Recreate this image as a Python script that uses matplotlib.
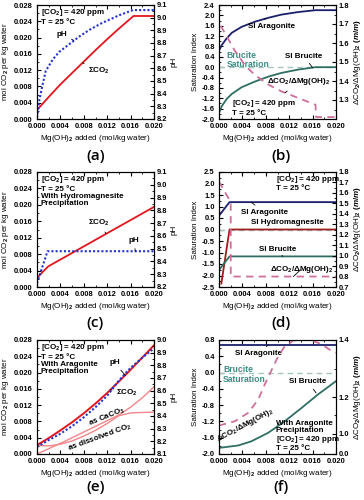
import numpy as np
import matplotlib
matplotlib.use('Agg')
import matplotlib.pyplot as plt
from matplotlib.ticker import MultipleLocator, FixedLocator, FuncFormatter

FONT = 'Liberation Sans'
plt.rcParams['font.family'] = [FONT, 'DejaVu Sans']
plt.rcParams['font.weight'] = 'bold'
plt.rcParams['font.size'] = 6
plt.rcParams['mathtext.fontset'] = 'custom'
plt.rcParams['mathtext.rm'] = FONT + ':bold'
plt.rcParams['mathtext.it'] = FONT + ':italic:bold'
plt.rcParams['mathtext.bf'] = FONT + ':bold'
plt.rcParams['axes.linewidth'] = 0.8

# ---- data ----
# (a) no precipitation
a_x = [0, 0.002, 0.004, 0.006, 0.008, 0.010, 0.012, 0.014, 0.0165, 0.020]
a_co2 = [0.0022, 0.0054, 0.0085, 0.0113, 0.0141, 0.0169, 0.0196, 0.0222, 0.0253, 0.0253]
a_ph_x = [0, 0.0004, 0.001, 0.0015, 0.0027, 0.0038, 0.0055, 0.0072, 0.009, 0.0112, 0.0141, 0.0164, 0.020]
a_ph = [8.21, 8.35, 8.48, 8.58, 8.67, 8.73, 8.79, 8.85, 8.905, 8.96, 9.02, 9.06, 9.06]

# (b) saturation indices, no precipitation
b_x = [0, 0.00046, 0.0013, 0.0022, 0.0039, 0.0062, 0.0085, 0.0107, 0.0136, 0.0165, 0.020]
b_arag = [0.64, 0.85, 1.11, 1.33, 1.56, 1.76, 1.91, 2.03, 2.13, 2.20, 2.20]
b_bruc = [-1.77, -1.51, -1.23, -1.03, -0.77, -0.55, -0.36, -0.22, -0.09, 0.0, 0.0]
b_ratio_x = [0.0003, 0.0016, 0.0027, 0.0045, 0.0062, 0.0085, 0.0107, 0.0136, 0.0165, 0.0166, 0.020]
b_ratio = [1.69, 1.62, 1.56, 1.48, 1.43, 1.38, 1.345, 1.31, 1.275, 1.21, 1.21]

# (c) hydromagnesite precipitation
c_co2_x = [0, 0.001, 0.0019, 0.020]
c_co2 = [0.0022, 0.0037, 0.0050, 0.0195]
c_ph_x = [0, 0.0018, 0.020]
c_ph = [8.23, 8.48, 8.48]

# (d) saturation indices with hydromagnesite
d_x = [0, 0.0018, 0.020]
d_arag = [0.60, 1.19, 1.19]
d_hmg_x = [0.0004, 0.0018, 0.020]
d_hmg = [-2.35, 0.0, 0.0]
d_bruc = [-1.76, -1.17, -1.17]
d_ratio_x = [0, 0.0005, 0.001, 0.0015, 0.002, 0.00201, 0.020]
d_ratio = [1.71, 1.66, 1.61, 1.56, 1.52, 0.80, 0.80]

# (e) aragonite precipitation
e_x = [0, 0.002, 0.004, 0.006, 0.008, 0.010, 0.012, 0.014, 0.016, 0.018, 0.020]
e_co2 = [0.0022, 0.0039, 0.0058, 0.0078, 0.0100, 0.0124, 0.0150, 0.0178, 0.0207, 0.0237, 0.0267]
e_caco3 = [0, 0.0013, 0.0026, 0.0040, 0.0054, 0.0068, 0.0082, 0.0096, 0.0115, 0.0138, 0.0165]
e_diss = [0.0021, 0.0020, 0.0024, 0.0032, 0.0044, 0.0058, 0.0075, 0.0094, 0.0101, 0.0102, 0.0103]
e_ph = [8.155, 8.21, 8.26, 8.32, 8.39, 8.47, 8.56, 8.68, 8.78, 8.86, 8.935]

# (f) saturation indices with aragonite
f_x = [0, 0.0033, 0.0055, 0.0084, 0.0112, 0.0141, 0.0169, 0.020]
f_bruc = [-1.85, -1.79, -1.69, -1.48, -1.20, -0.87, -0.54, -0.21]
f_arag_x = [0, 0.020]
f_arag = [0.68, 0.68]
f_ratio_x = [0, 0.0027, 0.005, 0.0067, 0.0078, 0.009, 0.0101, 0.0112, 0.0127, 0.0145, 0.016, 0.0175, 0.019, 0.020]
f_ratio = [1.045, 1.068, 1.114, 1.186, 1.243, 1.295, 1.342, 1.377, 1.398, 1.405, 1.398, 1.385, 1.365, 1.355]

RED = '#e3161d'
SALMON = '#f2868a'
BLUE = '#2233cc'
NAVY = '#1b1f6b'
TEAL = '#2f6f63'
HMG = '#a01c1c'
PINK = '#cf6f9c'
SATGREY = '#a8c4bc'
SATTEXT = '#3d8c84'

CO2_LABEL = 'mol CO$_2$ per kg water'
RATIO_LABEL = 'ΔCO$_2$/ΔMg(OH)$_2$ $\\mathit{(m/m)}$'
CONDS = '[CO$_2$] = 420 ppm\nT = 25 °C'
TFS = 5.4   # tick labels
FS = 5.8    # labels and notes
LS = 1.05

fig = plt.figure(figsize=(3.64, 5.00), dpi=100)


def setup(rect):
    ax = fig.add_axes(rect)
    ax.set_xlim(0, 0.02)
    ax.xaxis.set_major_locator(MultipleLocator(0.004))
    ax.xaxis.set_minor_locator(MultipleLocator(0.002))
    ax.xaxis.set_major_formatter(FuncFormatter(lambda v, p: f'{v:.3f}'))
    ax.tick_params(which='both', direction='in', top=True, right=False, labelsize=TFS, pad=3)
    ax.tick_params(which='major', length=3, width=0.8)
    ax.tick_params(which='minor', length=1.7, width=0.6)
    ax.set_xlabel('Mg(OH)$_2$ added (mol/kg water)', fontsize=FS, labelpad=2)
    ax2 = ax.twinx()
    ax2.tick_params(which='both', direction='in', labelsize=TFS, pad=2)
    ax2.tick_params(which='major', length=3, width=0.8)
    ax2.tick_params(which='minor', length=1.7, width=0.6)
    return ax, ax2


def co2_axis(ax):
    ax.set_ylim(0, 0.028)
    ax.yaxis.set_major_locator(MultipleLocator(0.004))
    ax.yaxis.set_minor_locator(MultipleLocator(0.002))
    ax.yaxis.set_major_formatter(FuncFormatter(lambda v, p: f'{v:.3f}'))
    ax.set_ylabel(CO2_LABEL, fontsize=FS, labelpad=2)


def si_axis(ax, lo, hi, step):
    ax.set_ylim(lo, hi)
    ax.yaxis.set_major_locator(MultipleLocator(step))
    ax.yaxis.set_minor_locator(MultipleLocator(step / 2))
    ax.yaxis.set_major_formatter(FuncFormatter(lambda v, p: f'{v:.1f}'))
    ax.set_ylabel('Saturation Index', fontsize=FS, labelpad=2)


def right_axis(ax2, lo, hi, step, label):
    ax2.set_ylim(lo, hi)
    ax2.yaxis.set_major_locator(MultipleLocator(step))
    ax2.yaxis.set_minor_locator(MultipleLocator(step / 2))
    ax2.yaxis.set_major_formatter(FuncFormatter(lambda v, p: f'{v:.1f}'))
    ax2.set_ylabel(label, fontsize=FS, labelpad=2)


def note(ax, text, xy, xytext, **kw):
    ax.annotate(text, xy=xy, xytext=xytext, ha='center', va='center', fontsize=FS,
                arrowprops=dict(arrowstyle='-', lw=0.6, color='black', shrinkA=1, shrinkB=0), **kw)


W, H = 117 / 364, 114 / 500
LX, RX = 37 / 364, 219 / 364

# ---------- (a) ----------
ax, ax2 = setup([LX, 0.762, W, H])
co2_axis(ax)
right_axis(ax2, 8.2, 9.1, 0.1, 'pH')
ax.plot(a_x, a_co2, color=RED, lw=1.3)
ax2.plot(a_ph_x, a_ph, color=BLUE, lw=1.5, ls=(0, (1, 1)))
ax.text(0.0006, 0.0274, CONDS, va='top', ha='left', fontsize=FS, linespacing=LS)
note(ax2, 'pH', (0.0063, 8.82), (0.0043, 8.87))
note(ax, 'ΣCO$_2$', (0.0078, 0.0138), (0.0106, 0.0117))

# ---------- (b) ----------
ax, ax2 = setup([RX, 0.762, W, H])
si_axis(ax, -2.0, 2.4, 0.4)
right_axis(ax2, 1.2, 1.8, 0.1, RATIO_LABEL)
ax2.yaxis.set_major_locator(FixedLocator([1.3, 1.4, 1.5, 1.6, 1.7, 1.8]))
ax.axhline(0, color=SATGREY, lw=1.0, ls=(0, (4, 3)))
ax.plot(b_x, b_arag, color=NAVY, lw=1.3)
ax.plot(b_x, b_bruc, color=TEAL, lw=1.3)
ax2.plot(b_ratio_x, b_ratio, color=PINK, lw=1.3, ls=(0, (4, 3)))
ax.text(0.0013, 0.62, 'Brucite\nSaturation', color=SATTEXT, ha='left', va='top', fontsize=6.2,
        linespacing=LS)
note(ax, 'SI Aragonite', (0.0078, 1.87), (0.0090, 1.56))
note(ax, 'SI Brucite', (0.0160, -0.02), (0.0145, 0.43))
note(ax2, 'ΔCO$_2$/ΔMg(OH)$_2$', (0.0113, 1.338), (0.0136, 1.395))
ax.text(0.0022, -1.2, CONDS, va='top', ha='left', fontsize=FS, linespacing=LS)

# ---------- (c) ----------
ax, ax2 = setup([LX, 0.426, W, 0.23])
co2_axis(ax)
right_axis(ax2, 8.2, 9.1, 0.1, 'pH')
ax.plot(c_co2_x, c_co2, color=RED, lw=1.3)
ax2.plot(c_ph_x, c_ph, color=BLUE, lw=1.5, ls=(0, (1, 1)))
ax.text(0.0006, 0.0274, CONDS + '\nWith Hydromagnesite\nPrecipitation', va='top', ha='left',
        fontsize=FS, linespacing=LS)
note(ax, 'ΣCO$_2$', (0.0118, 0.0130), (0.0106, 0.0156))
note(ax2, 'pH', (0.0168, 8.48), (0.0166, 8.56))

# ---------- (d) ----------
ax, ax2 = setup([RX, 0.426, W, 0.23])
si_axis(ax, -2.5, 2.5, 0.5)
right_axis(ax2, 0.7, 1.8, 0.1, RATIO_LABEL)
ax.axhline(0, color=SATGREY, lw=1.0, ls=(0, (4, 3)))
ax.plot(d_x, d_arag, color=NAVY, lw=1.3)
ax.plot(d_hmg_x, d_hmg, color=HMG, lw=1.3)
ax.plot(d_x, d_bruc, color=TEAL, lw=1.3)
ax2.plot(d_ratio_x, d_ratio, color=PINK, lw=1.3, ls=(0, (4, 3)))
ax.text(0.0097, 2.42, CONDS, va='top', ha='left', fontsize=FS, linespacing=LS)
note(ax, 'SI Aragonite', (0.0055, 1.19), (0.0077, 0.75))
note(ax, 'SI Hydromagnesite', (0.0095, 0.0), (0.0117, 0.31))
note(ax, 'SI Brucite', (0.0109, -1.17), (0.0100, -0.85))
note(ax2, 'ΔCO$_2$/ΔMg(OH)$_2$', (0.0127, 0.80), (0.0141, 0.872))

# ---------- (e) ----------
ax, ax2 = setup([LX, 0.092, W, H])
co2_axis(ax)
right_axis(ax2, 8.1, 9.0, 0.1, 'pH')
ax.plot(e_x, e_caco3, color=SALMON, lw=1.0)
ax.plot(e_x, e_diss, color=SALMON, lw=1.0)
ax.plot(e_x, e_co2, color=RED, lw=1.4)
ax2.plot(e_x, e_ph, color=BLUE, lw=1.5, ls=(0, (1, 1)))
ax.text(0.0006, 0.0274, CONDS + '\nWith Aragonite\nPrecipitation', va='top', ha='left',
        fontsize=FS, linespacing=LS)
note(ax2, 'pH', (0.0151, 8.72), (0.0133, 8.82))
note(ax, 'ΣCO$_2$', (0.0125, 0.0158), (0.0154, 0.0150))
ax.text(0.0119, 0.0090, 'as CaCO$_3$', rotation=22, ha='center', va='center', fontsize=FS)
ax.text(0.0107, 0.0039, 'as dissolved CO$_2$', rotation=20, ha='center', va='center', fontsize=FS)

# ---------- (f) ----------
ax, ax2 = setup([RX, 0.092, W, H])
si_axis(ax, -2.0, 0.8, 0.4)
# right axis of (f) is piecewise: 0.0-1.0 compressed, 1.0-1.2 and 1.2-1.4 at different scales
knots_r = [-1.0, 0.0, 1.0, 1.2, 1.4, 2.0]
knots_p = [-61.0, 0.0, 61.0, 172.0, 344.0, 860.0]
fwd = lambda v: np.interp(v, knots_r, knots_p)
inv = lambda p: np.interp(p, knots_p, knots_r)
ax2.set_yscale('function', functions=(fwd, inv))
ax2.set_ylim(0.0, 1.4)
ax2.yaxis.set_major_locator(FixedLocator([0.0, 1.0, 1.2, 1.4]))
ax2.yaxis.set_minor_locator(FixedLocator([1.1, 1.3]))
ax2.yaxis.set_major_formatter(FuncFormatter(lambda v, p: f'{v:.1f}'))
ax2.set_ylabel(RATIO_LABEL, fontsize=FS, labelpad=2)
ax.axhline(0, color=SATGREY, lw=1.0, ls=(0, (4, 3)))
ax.plot(f_arag_x, f_arag, color=NAVY, lw=1.3)
ax.plot(f_x, f_bruc, color=TEAL, lw=1.3)
ax2.plot(f_ratio_x, f_ratio, color=PINK, lw=1.3, ls=(0, (4, 3)))
ax.text(0.0007, 0.18, 'Brucite\nSaturation', color=SATTEXT, ha='left', va='top', fontsize=6.2,
        linespacing=LS)
note(ax, 'SI Aragonite', (0.0084, 0.68), (0.0067, 0.46))
note(ax, 'SI Brucite', (0.0166, -0.50), (0.0152, -0.23))
ax.text(0.0044, -1.30, 'ΔCO$_2$/ΔMg(OH)$_2$', rotation=28, ha='center', va='center', fontsize=FS)
ax.text(0.0097, -1.17, 'With Aragonite\nPrecipitation\n' + CONDS, va='top', ha='left',
        fontsize=FS, linespacing=1.0)

# panel letters
for lbl, x, y in [('(a)', 0.262, 0.688), ('(b)', 0.772, 0.688), ('(c)', 0.262, 0.354),
                  ('(d)', 0.772, 0.354), ('(e)', 0.262, 0.026), ('(f)', 0.772, 0.026)]:
    fig.text(x, y, lbl, ha='center', va='center', fontsize=11,
             family=['Open Sans', 'DejaVu Sans'], weight='semibold')

fig.savefig('out.png', dpi=100)
